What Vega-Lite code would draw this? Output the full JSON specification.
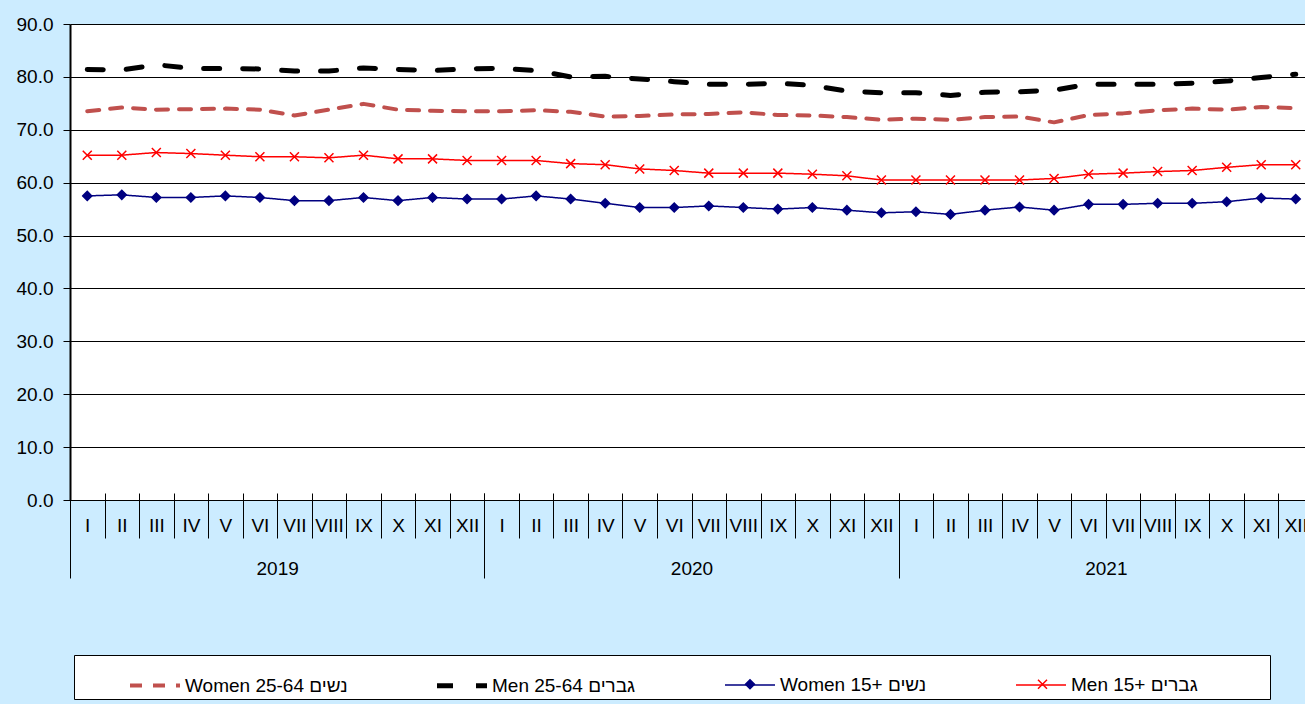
{
  "$schema": "https://vega.github.io/schema/vega-lite/v6.json",
  "autosize": {"type": "none"},
  "width": 1235,
  "height": 476,
  "padding": {"left": 70, "top": 24, "right": 0, "bottom": 204},
  "background": "#CCECFF",
  "config": {
    "font": "Liberation Sans",
    "view": {"fill": "white", "stroke": null},
    "axis": {"labelFont": "Liberation Sans", "labelFontSize": 19, "labelColor": "black"},
    "legend": {"labelFont": "Liberation Sans", "labelFontSize": 19}
  },
  "data": {
    "values": [
      {"m": "I 2019", "year": "2019", "Women 25-64 נשים": 73.5, "Men 25-64 גברים": 81.4, "Women 15+ נשים": 57.5, "Men 15+ גברים": 65.2},
      {"m": "II 2019", "year": "2019", "Women 25-64 נשים": 74.2, "Men 25-64 גברים": 81.3, "Women 15+ נשים": 57.7, "Men 15+ גברים": 65.2},
      {"m": "III 2019", "year": "2019", "Women 25-64 נשים": 73.8, "Men 25-64 גברים": 82.3, "Women 15+ נשים": 57.2, "Men 15+ גברים": 65.7},
      {"m": "IV 2019", "year": "2019", "Women 25-64 נשים": 73.9, "Men 25-64 גברים": 81.6, "Women 15+ נשים": 57.2, "Men 15+ גברים": 65.5},
      {"m": "V 2019", "year": "2019", "Women 25-64 נשים": 74.0, "Men 25-64 גברים": 81.6, "Women 15+ נשים": 57.5, "Men 15+ גברים": 65.2},
      {"m": "VI 2019", "year": "2019", "Women 25-64 נשים": 73.8, "Men 25-64 גברים": 81.5, "Women 15+ נשים": 57.2, "Men 15+ גברים": 64.9},
      {"m": "VII 2019", "year": "2019", "Women 25-64 נשים": 72.7, "Men 25-64 גברים": 81.1, "Women 15+ נשים": 56.6, "Men 15+ גברים": 64.9},
      {"m": "VIII 2019", "year": "2019", "Women 25-64 נשים": 73.8, "Men 25-64 גברים": 81.1, "Women 15+ נשים": 56.6, "Men 15+ גברים": 64.7},
      {"m": "IX 2019", "year": "2019", "Women 25-64 נשים": 74.9, "Men 25-64 גברים": 81.7, "Women 15+ נשים": 57.2, "Men 15+ גברים": 65.2},
      {"m": "X 2019", "year": "2019", "Women 25-64 נשים": 73.8, "Men 25-64 גברים": 81.4, "Women 15+ נשים": 56.6, "Men 15+ גברים": 64.5},
      {"m": "XI 2019", "year": "2019", "Women 25-64 נשים": 73.6, "Men 25-64 גברים": 81.2, "Women 15+ נשים": 57.2, "Men 15+ גברים": 64.5},
      {"m": "XII 2019", "year": "2019", "Women 25-64 נשים": 73.5, "Men 25-64 גברים": 81.5, "Women 15+ נשים": 56.9, "Men 15+ גברים": 64.2},
      {"m": "I 2020", "year": "2020", "Women 25-64 נשים": 73.5, "Men 25-64 גברים": 81.6, "Women 15+ נשים": 56.9, "Men 15+ גברים": 64.2},
      {"m": "II 2020", "year": "2020", "Women 25-64 נשים": 73.7, "Men 25-64 גברים": 81.2, "Women 15+ נשים": 57.5, "Men 15+ גברים": 64.2},
      {"m": "III 2020", "year": "2020", "Women 25-64 נשים": 73.4, "Men 25-64 גברים": 80.0, "Women 15+ נשים": 56.9, "Men 15+ גברים": 63.6},
      {"m": "IV 2020", "year": "2020", "Women 25-64 נשים": 72.5, "Men 25-64 גברים": 80.1, "Women 15+ נשים": 56.1, "Men 15+ גברים": 63.4},
      {"m": "V 2020", "year": "2020", "Women 25-64 נשים": 72.6, "Men 25-64 גברים": 79.6, "Women 15+ נשים": 55.3, "Men 15+ גברים": 62.6},
      {"m": "VI 2020", "year": "2020", "Women 25-64 נשים": 72.9, "Men 25-64 גברים": 79.1, "Women 15+ נשים": 55.3, "Men 15+ גברים": 62.3},
      {"m": "VII 2020", "year": "2020", "Women 25-64 נשים": 73.0, "Men 25-64 גברים": 78.6, "Women 15+ נשים": 55.6, "Men 15+ גברים": 61.8},
      {"m": "VIII 2020", "year": "2020", "Women 25-64 נשים": 73.3, "Men 25-64 גברים": 78.6, "Women 15+ נשים": 55.3, "Men 15+ גברים": 61.8},
      {"m": "IX 2020", "year": "2020", "Women 25-64 נשים": 72.8, "Men 25-64 גברים": 78.8, "Women 15+ נשים": 55.0, "Men 15+ גברים": 61.8},
      {"m": "X 2020", "year": "2020", "Women 25-64 נשים": 72.7, "Men 25-64 גברים": 78.4, "Women 15+ נשים": 55.3, "Men 15+ גברים": 61.6},
      {"m": "XI 2020", "year": "2020", "Women 25-64 נשים": 72.4, "Men 25-64 גברים": 77.3, "Women 15+ נשים": 54.8, "Men 15+ גברים": 61.3},
      {"m": "XII 2020", "year": "2020", "Women 25-64 נשים": 71.9, "Men 25-64 גברים": 77.0, "Women 15+ נשים": 54.3, "Men 15+ גברים": 60.5},
      {"m": "I 2021", "year": "2021", "Women 25-64 נשים": 72.1, "Men 25-64 גברים": 77.0, "Women 15+ נשים": 54.5, "Men 15+ גברים": 60.5},
      {"m": "II 2021", "year": "2021", "Women 25-64 נשים": 71.9, "Men 25-64 גברים": 76.5, "Women 15+ נשים": 54.0, "Men 15+ גברים": 60.5},
      {"m": "III 2021", "year": "2021", "Women 25-64 נשים": 72.4, "Men 25-64 גברים": 77.1, "Women 15+ נשים": 54.8, "Men 15+ גברים": 60.5},
      {"m": "IV 2021", "year": "2021", "Women 25-64 נשים": 72.5, "Men 25-64 גברים": 77.2, "Women 15+ נשים": 55.4, "Men 15+ גברים": 60.5},
      {"m": "V 2021", "year": "2021", "Women 25-64 נשים": 71.4, "Men 25-64 גברים": 77.5, "Women 15+ נשים": 54.8, "Men 15+ גברים": 60.8},
      {"m": "VI 2021", "year": "2021", "Women 25-64 נשים": 72.8, "Men 25-64 גברים": 78.6, "Women 15+ נשים": 55.9, "Men 15+ גברים": 61.6},
      {"m": "VII 2021", "year": "2021", "Women 25-64 נשים": 73.1, "Men 25-64 גברים": 78.6, "Women 15+ נשים": 55.9, "Men 15+ גברים": 61.8},
      {"m": "VIII 2021", "year": "2021", "Women 25-64 נשים": 73.7, "Men 25-64 גברים": 78.6, "Women 15+ נשים": 56.1, "Men 15+ גברים": 62.1},
      {"m": "IX 2021", "year": "2021", "Women 25-64 נשים": 74.0, "Men 25-64 גברים": 78.8, "Women 15+ נשים": 56.1, "Men 15+ גברים": 62.3},
      {"m": "X 2021", "year": "2021", "Women 25-64 נשים": 73.8, "Men 25-64 גברים": 79.2, "Women 15+ נשים": 56.4, "Men 15+ גברים": 62.9},
      {"m": "XI 2021", "year": "2021", "Women 25-64 נשים": 74.3, "Men 25-64 גברים": 79.9, "Women 15+ נשים": 57.1, "Men 15+ גברים": 63.4},
      {"m": "XII 2021", "year": "2021", "Women 25-64 נשים": 74.1, "Men 25-64 גברים": 80.5, "Women 15+ נשים": 56.9, "Men 15+ גברים": 63.4}
    ]
  },
  "transform": [
    {"fold": ["Women 25-64 נשים", "Men 25-64 גברים", "Women 15+ נשים", "Men 15+ גברים"], "as": ["series", "v"]}
  ],
  "layer": [
    {
      "encoding": {
        "x": {
          "field": "m", "type": "ordinal", "sort": null,
          "scale": {"type": "band", "range": [0, 1243], "paddingInner": 0, "paddingOuter": 0},
          "axis": {
            "orient": "bottom", "offset": -7, "domain": false, "grid": false,
            "ticks": true, "tickBand": "extent", "tickSize": 45, "tickColor": "black", "tickWidth": 1,
            "labelExpr": "isValid(datum.value) ? split(datum.value, ' ')[0] : ''", "labelAngle": 0, "labelFontSize": 19,
            "labelPadding": -22, "labelOverlap": false, "labelBound": false, "title": null
          }
        },
        "y": {
          "field": "v", "type": "quantitative",
          "scale": {"domain": [0, 90], "nice": false},
          "axis": {
            "orient": "left", "values": [0, 10, 20, 30, 40, 50, 60, 70, 80, 90], "format": ".1f",
            "grid": true, "gridColor": "black", "gridWidth": 1,
            "domainColor": "black", "domainWidth": 2,
            "tickColor": "black", "tickSize": 7, "tickWidth": 1,
            "labelFontSize": 19, "labelPadding": 10, "title": null
          }
        }
      },
      "layer": [
        {
          "mark": {"type": "line", "strokeCap": "round", "strokeJoin": "round"},
          "encoding": {
            "color": {
              "field": "series", "type": "nominal",
              "scale": {"domain": ["Women 25-64 נשים", "Men 25-64 גברים", "Women 15+ נשים", "Men 15+ גברים"], "range": ["#C0504D", "#000000", "#000080", "#FF0000"]},
              "legend": {
                "orient": "none", "legendX": 4, "legendY": 631, "direction": "horizontal", "columns": 4,
                "padding": 3, "columnPadding": 36, "symbolType": "stroke", "symbolSize": 2500,
                "symbolOffset": 50.5, "labelOffset": 2.5, "labelFontSize": 19, "labelColor": "black", "labelLimit": 400,
                "fillColor": "white", "strokeColor": "black",
                "title": " ", "titleOrient": "right", "titlePadding": 69, "titleFontSize": 19,
                "zindex": 0
              }
            },
            "strokeDash": {
              "field": "series", "type": "nominal",
              "scale": {"domain": ["Women 25-64 נשים", "Men 25-64 גברים", "Women 15+ נשים", "Men 15+ גברים"], "range": [[12, 11], [16, 23], [1, 0], [1, 0]]}
            },
            "strokeWidth": {
              "field": "series", "type": "nominal",
              "scale": {"type": "ordinal", "domain": ["Women 25-64 נשים", "Men 25-64 גברים", "Women 15+ נשים", "Men 15+ גברים"], "range": [4, 5, 1.5, 1.5]}
            }
          }
        },
        {
          "transform": [{"filter": "datum.series === 'Women 15+ נשים' || datum.series === 'Men 15+ גברים'"}],
          "mark": {"type": "point", "size": 81, "strokeWidth": 1.5, "opacity": 1},
          "encoding": {
            "shape": {
              "field": "series", "type": "nominal",
              "scale": {"domain": ["Women 15+ נשים", "Men 15+ גברים"], "range": ["diamond", "M-1,-1L1,1M1,-1L-1,1"]},
              "legend": {
                "orient": "none", "legendX": 599, "legendY": 647.5, "direction": "horizontal", "columns": 2,
                "padding": 3, "columnPadding": 204.5, "symbolSize": 81, "symbolStrokeWidth": 1.5,
                "symbolOffset": 68.5, "labelOffset": 0, "labelExpr": "''",
                "title": null, "zindex": 1
              }
            },
            "fill": {
              "field": "series", "type": "nominal",
              "scale": {"domain": ["Women 15+ נשים", "Men 15+ גברים"], "range": ["#000080", "rgba(0,0,0,0)"]}
            },
            "stroke": {
              "field": "series", "type": "nominal",
              "scale": {"domain": ["Women 15+ נשים", "Men 15+ גברים"], "range": ["#000080", "#FF0000"]}
            }
          }
        }
      ]
    },
    {
      "mark": {"type": "point", "opacity": 0},
      "encoding": {
        "x": {
          "field": "year", "type": "ordinal", "sort": null,
          "scale": {"type": "band", "range": [0, 1243], "paddingInner": 0, "paddingOuter": 0},
          "axis": {
            "orient": "bottom", "offset": -7, "domain": false, "grid": false,
            "ticks": true, "tickBand": "extent", "tickSize": 85, "tickColor": "black", "tickWidth": 1,
            "labelAngle": 0, "labelFontSize": 19, "labelPadding": -19, "labelOverlap": false, "labelBound": false, "title": null
          }
        }
      }
    }
  ],
  "resolve": {"scale": {"x": "independent"}, "axis": {"x": "independent"}}
}
